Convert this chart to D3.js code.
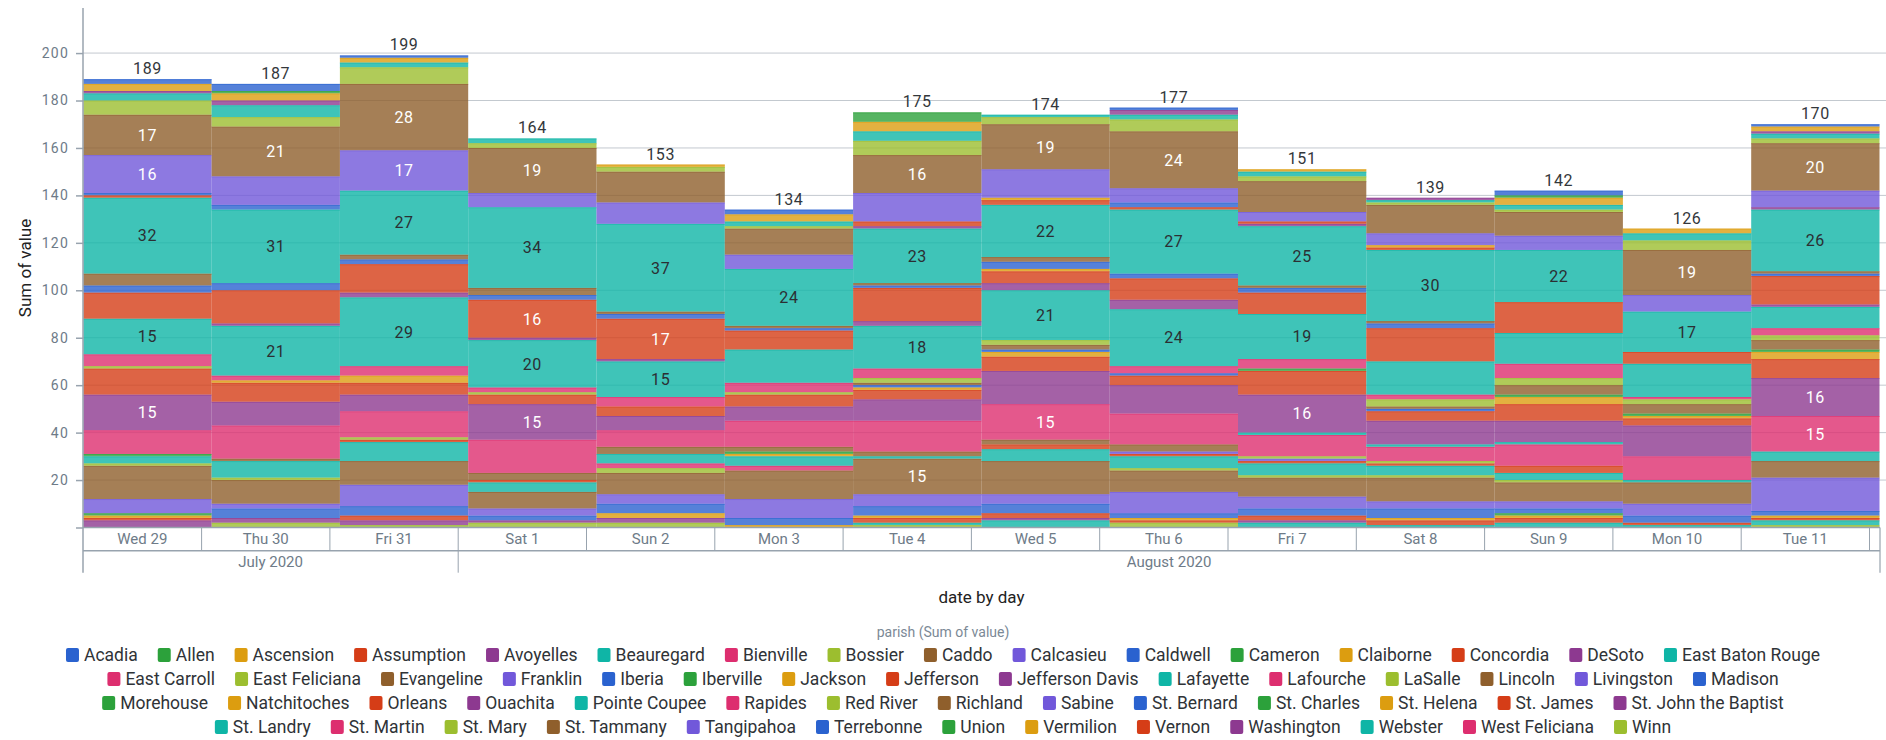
<!DOCTYPE html>
<html>
<head>
<meta charset="utf-8">
<script src="https://cdn.jsdelivr.net/npm/d3@7"></script>
<style>
  body { margin: 0; background: #fff; }
  text { font-family: Roboto, "DejaVu Sans", sans-serif; }
</style>
</head>
<body>
<svg id="chart" width="1886" height="740"></svg>
<script>
// days on the x axis, and the month row underneath
const days = ["Wed 29", "Thu 30", "Fri 31", "Sat 1", "Sun 2", "Mon 3", "Tue 4",
              "Wed 5", "Thu 6", "Fri 7", "Sat 8", "Sun 9", "Mon 10", "Tue 11"];
const monthLabels = ["July 2020", "August 2020"];
const monthStart = [0, 3];

const parishes = ["Acadia", "Allen", "Ascension", "Assumption", "Avoyelles", "Beauregard",
  "Bienville", "Bossier", "Caddo", "Calcasieu", "Caldwell", "Cameron", "Claiborne",
  "Concordia", "DeSoto", "East Baton Rouge", "East Carroll", "East Feliciana", "Evangeline",
  "Franklin", "Iberia", "Iberville", "Jackson", "Jefferson", "Jefferson Davis", "Lafayette",
  "Lafourche", "LaSalle", "Lincoln", "Livingston", "Madison", "Morehouse", "Natchitoches",
  "Orleans", "Ouachita", "Pointe Coupee", "Rapides", "Red River", "Richland", "Sabine",
  "St. Bernard", "St. Charles", "St. Helena", "St. James", "St. John the Baptist",
  "St. Landry", "St. Martin", "St. Mary", "St. Tammany", "Tangipahoa", "Terrebonne",
  "Union", "Vermilion", "Vernon", "Washington", "Webster", "West Feliciana", "Winn"];

// one row per parish (same order as above), one value per day
const counts = [
  [2,3,1,0,0,2,0,0,1,0,0,2,0,1],        // Acadia
  [0,1,0,0,0,0,4,0,0,0,0,1,0,0],        // Allen
  [3,3,2,0,1,3,4,0,0,1,0,3,2,2],        // Ascension
  [0,0,0,0,0,0,0,0,0,0,0,0,0,0],        // Assumption
  [1,2,0,0,0,0,0,0,2,0,1,0,0,1],        // Avoyelles
  [3,5,2,2,0,2,4,1,2,2,1,2,3,2],        // Beauregard
  [0,0,0,0,0,0,0,0,0,0,0,0,0,0],        // Bienville
  [6,4,7,2,2,1,6,3,5,2,1,1,4,2],        // Bossier
  [17,21,28,19,13,11,16,19,24,13,12,10,19,20], // Caddo
  [16,12,17,6,9,6,12,12,6,4,5,6,7,7],   // Calcasieu
  [1,2,0,0,0,0,0,0,2,0,0,0,0,0],        // Caldwell
  [0,0,0,0,0,0,0,0,0,0,0,0,0,0],        // Cameron
  [0,0,0,0,0,0,0,1,0,0,1,0,0,0],        // Claiborne
  [1,0,0,0,0,0,2,2,1,1,1,0,0,0],        // Concordia
  [0,0,0,0,0,0,1,0,0,1,0,0,0,1],        // DeSoto
  [32,31,27,34,37,24,23,22,27,25,30,22,17,26], // East Baton Rouge
  [0,0,0,0,0,0,0,0,0,0,0,0,0,0],        // East Carroll
  [0,0,0,0,0,0,0,0,0,0,0,0,0,0],        // East Feliciana
  [5,0,2,3,1,1,1,2,0,1,1,0,0,1],        // Evangeline
  [0,0,0,0,0,0,0,0,0,0,0,0,0,0],        // Franklin
  [3,3,2,2,2,1,1,3,2,2,2,0,0,1],        // Iberia
  [0,0,0,0,0,0,0,0,0,0,0,0,0,0],        // Iberville
  [0,0,0,0,0,0,0,1,0,0,0,0,0,0],        // Jackson
  [11,14,12,16,17,8,14,5,9,9,14,13,5,12], // Jefferson
  [0,1,2,1,1,0,2,3,4,0,0,0,0,1],        // Jefferson Davis
  [15,21,29,20,15,14,18,21,24,19,14,13,14,9], // Lafayette
  [5,2,4,2,4,4,4,0,3,4,2,6,1,3],        // Lafourche
  [1,0,0,1,0,1,2,2,0,0,3,3,2,2],        // LaSalle
  [0,0,0,0,0,0,1,2,0,0,1,4,4,4],        // Lincoln
  [0,0,0,0,0,0,0,0,0,0,0,0,0,0],        // Livingston
  [0,0,0,0,0,0,1,1,1,0,1,0,0,0],        // Madison
  [0,0,0,0,0,0,0,0,0,1,0,1,1,1],        // Morehouse
  [0,1,3,0,0,0,1,2,0,0,0,3,1,3],        // Natchitoches
  [11,8,5,4,4,5,4,6,4,10,4,7,3,8],      // Orleans
  [15,10,7,15,6,6,9,14,12,16,10,9,13,16], // Ouachita
  [0,0,0,0,0,0,0,0,0,1,1,1,0,0],        // Pointe Coupee
  [10,14,11,14,7,11,13,15,13,9,6,9,10,15], // Rapides
  [0,0,1,0,0,0,0,0,0,1,1,0,0,0],        // Red River
  [0,1,0,3,3,2,2,2,3,0,0,0,0,0],        // Richland
  [0,0,0,0,0,0,0,0,1,1,0,0,0,0],        // Sabine
  [0,0,0,0,0,0,0,0,0,0,0,0,0,0],        // St. Bernard
  [1,0,0,0,0,1,0,0,0,0,0,0,0,0],        // St. Charles
  [0,0,0,0,0,1,0,0,0,0,0,0,0,0],        // St. Helena
  [0,0,1,1,0,0,0,2,1,1,1,3,0,0],        // St. James
  [0,0,0,0,0,0,0,0,0,0,0,0,0,0],        // St. John the Baptist
  [3,7,8,4,4,4,1,5,5,5,4,3,1,4],        // St. Landry
  [0,0,0,0,2,2,0,0,0,0,0,0,0,0],        // St. Martin
  [1,1,0,0,2,0,0,0,1,1,1,1,0,0],        // St. Mary
  [14,10,10,7,9,12,15,14,9,8,10,8,9,7], // St. Tammany
  [6,2,9,3,4,8,5,4,9,5,3,3,5,14],       // Tangipahoa
  [0,4,4,2,4,3,4,4,2,3,4,2,3,2],        // Terrebonne
  [1,0,0,0,0,0,0,0,0,0,0,1,0,0],        // Union
  [1,0,0,0,2,1,1,0,1,0,1,1,0,1],        // Vermilion
  [1,0,2,0,0,0,2,2,1,2,2,2,1,1],        // Vernon
  [3,2,2,1,2,0,0,1,0,1,0,0,0,0],        // Washington
  [0,0,0,0,0,0,1,3,0,2,1,2,1,2],        // Webster
  [0,0,0,0,0,0,0,0,0,0,0,0,0,0],        // West Feliciana
  [0,2,1,2,2,0,1,0,2,0,0,0,0,1]         // Winn
];

const yTicks = [0, 20, 40, 60, 80, 100, 120, 140, 160, 180, 200];
const legendRowStart = [0, 16, 31, 45];

// 10 colour cycle
const palette = ["#2a62cf", "#2ca13b", "#dc9d10", "#d53d17", "#8d3990",
                 "#0fb5a6", "#dd2e6f", "#9cbe2f", "#8f5f2c", "#7158da"];
const color = d3.scaleOrdinal().domain(parishes).range(palette);
const darkText = new Set(["#0fb5a6", "#9cbe2f", "#dc9d10", "#2ca13b"]);

const width = 1886, height = 740;
const left = 83, axisEnd = 1880;
const tickColor = "#98a3ae", labelColor = "#6e7b88";

const table = days.map((d, i) => {
  const row = {day: d};
  parishes.forEach((p, j) => { row[p] = counts[j][i]; });
  return row;
});
const totals = days.map((d, i) => d3.sum(counts, c => c[i]));

const svg = d3.select("#chart");

const x = d3.scaleBand().domain(days).range([83.3, 1879.5]).padding(0);
const y = d3.scaleLinear().domain([0, 219]).range([527.5, 8]);

// gridlines (under the translucent bars)
svg.append("g")
  .selectAll("line")
  .data(yTicks.filter(t => t > 0))
  .join("line")
    .attr("x1", left).attr("x2", width)
    .attr("y1", d => y(d)).attr("y2", d => y(d))
    .attr("stroke", "#c3c9cf")
    .attr("stroke-width", 1);

// first parish sits on top of the stack
const series = d3.stack().keys(parishes.slice().reverse())(table);
const segments = [];
series.forEach(s => {
  s.forEach(v => {
    if (v[1] > v[0]) segments.push({key: s.key, day: v.data.day, y0: v[0], y1: v[1]});
  });
});

const bars = svg.append("g");
bars.selectAll("rect")
  .data(segments)
  .join("rect")
    .attr("x", d => x(d.day))
    .attr("width", x.bandwidth())
    .attr("y", d => y(d.y1))
    .attr("height", d => y(d.y0) - y(d.y1))
    .attr("fill", d => color(d.key))
    .attr("fill-opacity", 0.8);

bars.selectAll("line")
  .data(segments)
  .join("line")
    .attr("x1", d => x(d.day))
    .attr("x2", d => x(d.day) + x.bandwidth())
    .attr("y1", d => y(d.y1) + 0.5)
    .attr("y2", d => y(d.y1) + 0.5)
    .attr("stroke", d => color(d.key))
    .attr("stroke-opacity", 0.55)
    .attr("stroke-width", 1);

// values inside big segments
svg.append("g")
  .selectAll("text")
  .data(segments.filter(d => d.y1 - d.y0 >= 15))
  .join("text")
    .attr("x", d => x(d.day) + x.bandwidth() / 2)
    .attr("y", d => y((d.y0 + d.y1) / 2))
    .attr("dy", "0.36em")
    .attr("text-anchor", "middle")
    .attr("font-size", 16)
    .attr("letter-spacing", "0.6px")
    .attr("fill", d => darkText.has(color(d.key)) ? "#2b2f33" : "#fff")
    .text(d => d.y1 - d.y0);

// totals above bars
svg.append("g")
  .selectAll("text")
  .data(days)
  .join("text")
    .attr("x", d => x(d) + x.bandwidth() / 2)
    .attr("y", (d, i) => y(totals[i]) - 5)
    .attr("text-anchor", "middle")
    .attr("font-size", 16)
    .attr("letter-spacing", "0.6px")
    .attr("fill", "#33373b")
    .text((d, i) => totals[i]);

// y axis
const yAxis = d3.axisLeft(y)
  .tickValues(yTicks)
  .tickSize(7)
  .tickPadding(7)
  .tickFormat(d => d === 0 ? "" : d);
svg.append("g")
  .attr("transform", `translate(${left},0)`)
  .call(yAxis)
  .call(g => g.select(".domain").remove())
  .call(g => g.selectAll(".tick line").attr("stroke", tickColor).attr("stroke-width", 1.5))
  .call(g => g.selectAll(".tick text")
    .attr("fill", labelColor)
    .attr("font-size", 14)
    .attr("letter-spacing", "1.2px")
    .style("font-family", "Roboto, sans-serif"));

// two-row date axis
const rowTop = 527.5, rowMid = 550.7, rowBottom = 572.7;
const dayShift = 10;
const dayEdge = days.map((d, i) => i === 0 ? left : x(d) - dayShift);
dayEdge.push(x(days[days.length - 1]) + x.bandwidth() - dayShift);

const axisG = svg.append("g").attr("stroke", tickColor);
axisG.append("line")
  .attr("x1", left).attr("x2", left).attr("y1", 8).attr("y2", rowBottom)
  .attr("stroke-width", 1.5);
axisG.append("line")
  .attr("x1", left).attr("x2", axisEnd).attr("y1", rowTop).attr("y2", rowTop)
  .attr("stroke-width", 1.5);
axisG.append("line")
  .attr("x1", left).attr("x2", axisEnd).attr("y1", rowMid).attr("y2", rowMid)
  .attr("stroke-width", 1.5);
axisG.append("line")
  .attr("x1", axisEnd).attr("x2", axisEnd).attr("y1", rowTop).attr("y2", rowBottom)
  .attr("stroke-width", 1.2);
axisG.selectAll("line.day")
  .data(dayEdge.slice(1))
  .join("line")
    .attr("class", "day")
    .attr("x1", d => d).attr("x2", d => d)
    .attr("y1", rowTop).attr("y2", rowMid)
    .attr("stroke-width", 1);
axisG.selectAll("line.month")
  .data(monthStart.slice(1))
  .join("line")
    .attr("class", "month")
    .attr("x1", d => dayEdge[d]).attr("x2", d => dayEdge[d])
    .attr("y1", rowMid).attr("y2", rowBottom)
    .attr("stroke-width", 1);

svg.append("g")
  .selectAll("text")
  .data(days)
  .join("text")
    .attr("x", (d, i) => (dayEdge[i] + dayEdge[i + 1]) / 2)
    .attr("y", (rowTop + rowMid) / 2)
    .attr("dy", "0.35em")
    .attr("text-anchor", "middle")
    .attr("font-size", 15)
    .attr("fill", labelColor)
    .text(d => d);

svg.append("g")
  .selectAll("text")
  .data(monthLabels)
  .join("text")
    .attr("x", (d, i) => {
      const a = dayEdge[monthStart[i]];
      const b = i + 1 < monthStart.length ? dayEdge[monthStart[i + 1]] : axisEnd;
      return (a + b) / 2;
    })
    .attr("y", (rowMid + rowBottom) / 2)
    .attr("dy", "0.35em")
    .attr("text-anchor", "middle")
    .attr("font-size", 15)
    .attr("fill", labelColor)
    .text(d => d);

// axis titles
svg.append("text")
  .attr("x", (left + axisEnd) / 2)
  .attr("y", 597)
  .attr("dy", "0.35em")
  .attr("text-anchor", "middle")
  .attr("font-size", 17)
  .attr("fill", "#222")
  .text("date by day");

svg.append("text")
  .attr("transform", "translate(25,268) rotate(-90)")
  .attr("dy", "0.35em")
  .attr("text-anchor", "middle")
  .attr("font-size", 17)
  .attr("fill", "#222")
  .text("Sum of value");

// legend
svg.append("text")
  .attr("x", width / 2)
  .attr("y", 632)
  .attr("dy", "0.35em")
  .attr("text-anchor", "middle")
  .attr("font-size", 14)
  .attr("fill", "#7b8996")
  .text("parish (Sum of value)");

const legendRowY = [655, 679, 703, 727];
legendRowStart.forEach((start, r) => {
  const end = r + 1 < legendRowStart.length ? legendRowStart[r + 1] : parishes.length;
  const row = svg.append("g");
  let cx = 0;
  parishes.slice(start, end).forEach(name => {
    const item = row.append("g").attr("transform", `translate(${cx},0)`);
    item.append("rect")
      .attr("x", 0).attr("y", -7)
      .attr("width", 13).attr("height", 14)
      .attr("rx", 2)
      .attr("fill", color(name));
    const t = item.append("text")
      .attr("x", 18)
      .attr("dy", "0.36em")
      .attr("font-size", 17.5)
      .attr("fill", "#2f3337")
      .text(name);
    cx += 18 + t.node().getComputedTextLength() + 20;
  });
  const w = cx - 20;
  row.attr("transform", `translate(${width / 2 - w / 2},${legendRowY[r]})`);
});
</script>
</body>
</html>
